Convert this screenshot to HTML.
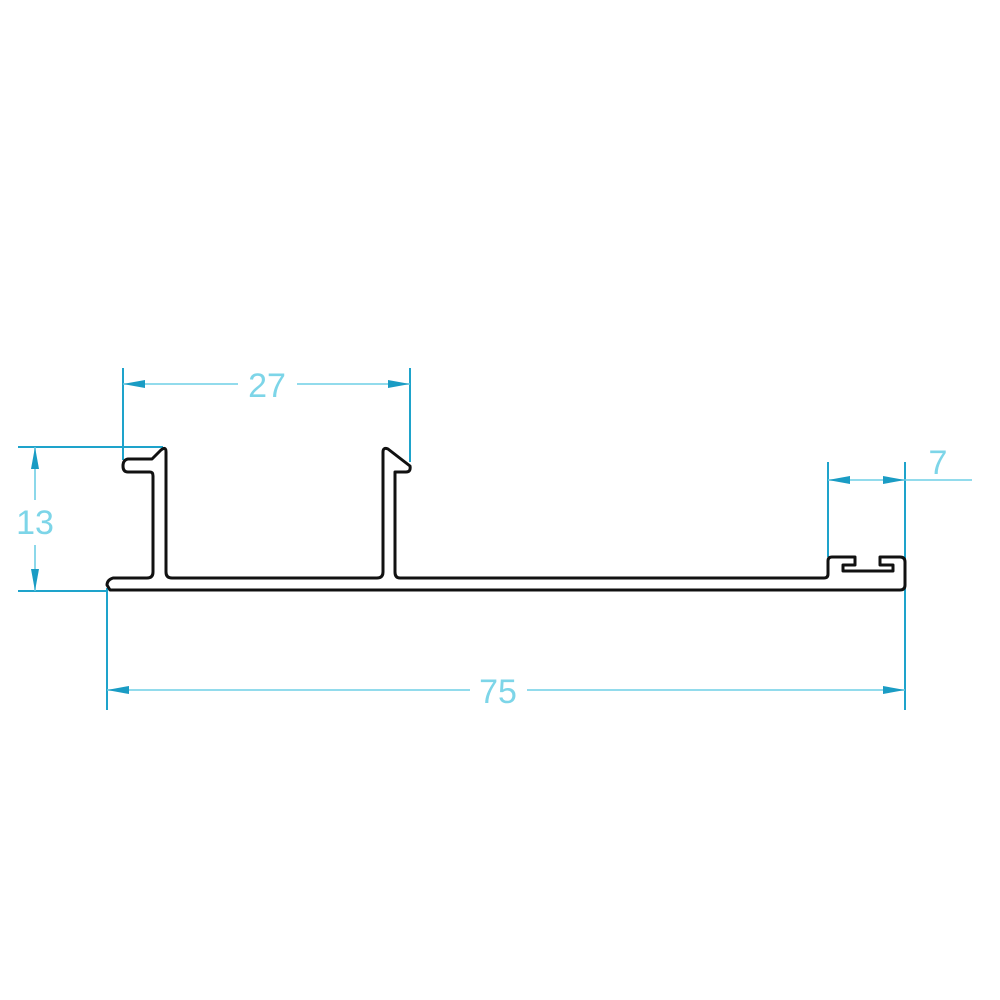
<!DOCTYPE html>
<html><head><style>body{margin:0;background:#fff}svg{display:block}</style></head>
<body>
<svg width="1000" height="1000" viewBox="0 0 1000 1000" xmlns="http://www.w3.org/2000/svg">
<g stroke="#1ea3cb" stroke-width="2" fill="none">
<line x1="123" y1="368" x2="123" y2="460"/>
<line x1="410" y1="368" x2="410" y2="462"/>
<line x1="18" y1="447" x2="163" y2="447"/>
<line x1="18" y1="591" x2="107" y2="591"/>
<line x1="107" y1="588" x2="107" y2="710"/>
<line x1="905" y1="462" x2="905" y2="710"/>
<line x1="828" y1="462" x2="828" y2="557"/>
</g>
<g stroke="#6fcfe5" stroke-width="1.6" fill="none">
<line x1="123" y1="384" x2="238" y2="384"/>
<line x1="297" y1="384" x2="410" y2="384"/>
<line x1="35" y1="447" x2="35" y2="500"/>
<line x1="35" y1="545" x2="35" y2="591"/>
<line x1="107" y1="690" x2="470" y2="690"/>
<line x1="527" y1="690" x2="905" y2="690"/>
<line x1="828" y1="480" x2="972" y2="480"/>
</g>
<g fill="#1a9cc4">
<polygon points="123,384 145,380 145,388"/>
<polygon points="410,384 388,380 388,388"/>
<polygon points="35,447 31,469 39,469"/>
<polygon points="35,591 31,569 39,569"/>
<polygon points="107,690 129,686 129,694"/>
<polygon points="905,690 883,686 883,694"/>
<polygon points="828,480 850,476 850,484"/>
<polygon points="905,480 883,476 883,484"/>
</g>
<g font-family="Liberation Sans, sans-serif" font-size="34" fill="#7dd5e8">
<text x="267" y="397" text-anchor="middle">27</text>
<text x="35" y="534" text-anchor="middle">13</text>
<text x="498" y="703" text-anchor="middle">75</text>
<text x="938" y="474" text-anchor="middle">7</text>
</g>
<path d="M110,590 L900,590 Q905,590 905,585 L905,562 Q905,557 900,557 L880,557 L880,565 L893,565 L893,571 L843,571 L843,565 L855,565 L855,557 L832,557 Q828,557 828,561 L828,574 Q828,578 824,578 L400,578 Q395,578 395,572 L395,472 L406,472 Q411,472 410,466 L388,449 Q383,447 383,452 L383,572 Q383,578 377,578 L172,578 Q166,578 166,572 L166,452 Q166,446 161,450 L152,459 L128,459 Q123,460 123,466 Q123,472 128,472 L150,472 Q153,472 153,476 L153,572 Q153,578 147,578 L113,578 Q107,580 107,585 Z" fill="none" stroke="#111" stroke-width="3" stroke-linejoin="round"/>
</svg>
</body></html>
